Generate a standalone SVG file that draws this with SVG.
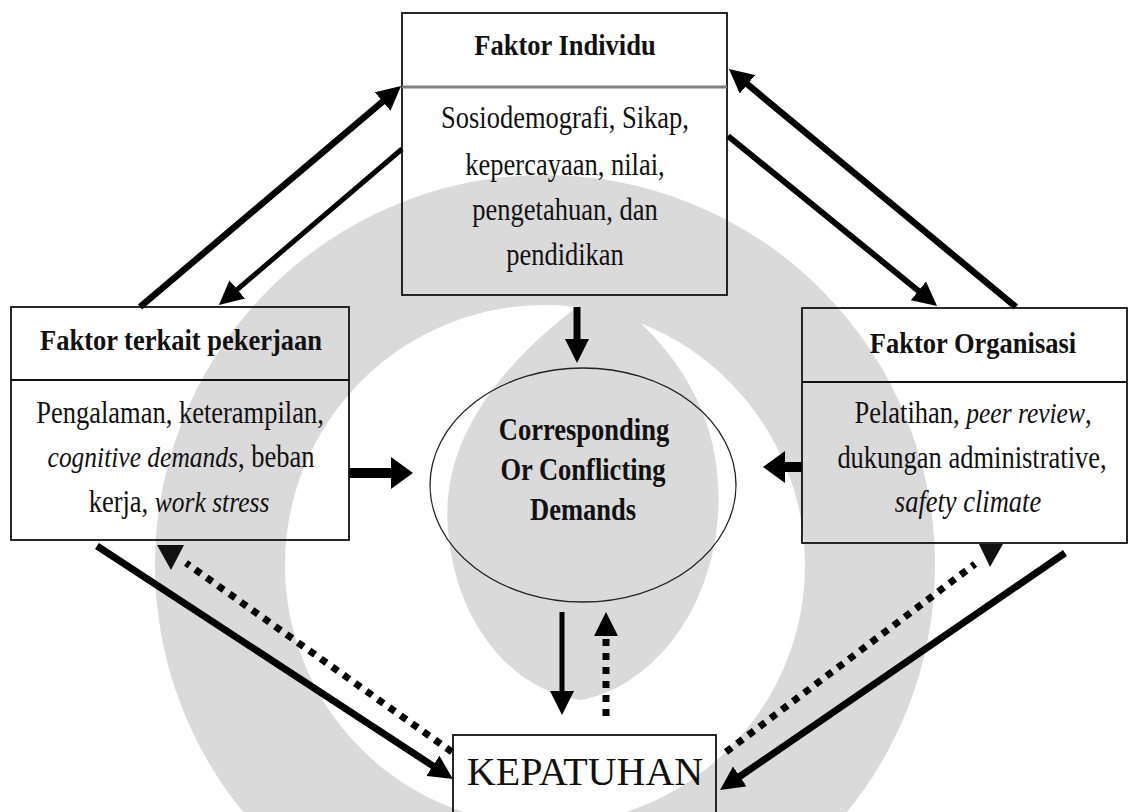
<svg xmlns="http://www.w3.org/2000/svg" width="1130" height="812" viewBox="0 0 1130 812">
<style>
  .box{fill:none;stroke:#111;stroke-width:1.8}
  .dv{stroke:#111;stroke-width:1.8}
  .t{font-family:"Liberation Serif","Times New Roman",serif;font-size:26.5px;fill:#111;text-anchor:middle}
  .b{font-weight:bold}
  .i{font-style:italic;font-size:25.5px}
  .c{fill:none;stroke:#000;stroke-linecap:butt}
  .dot{stroke-dasharray:7 7}
  .hd{fill:#111}
  .wm{fill:none;stroke:#dadada}
  .wmf{fill:#dadada}
</style>
<defs>
  <marker id="ah" markerUnits="userSpaceOnUse" viewBox="0 0 24 24" markerWidth="24" markerHeight="24" refX="9" refY="12" orient="auto">
    <path d="M0,0 L24,12 L0,24 z" fill="#000"/>
  </marker>
  <marker id="ahw" markerUnits="userSpaceOnUse" viewBox="0 0 22 32" markerWidth="22" markerHeight="32" refX="7" refY="16" orient="auto">
    <path d="M0,0 L22,16 L0,32 z" fill="#000"/>
  </marker>
</defs>
<rect width="1130" height="812" fill="#fff"/>

<g id="watermark">
  <circle class="wm" cx="545" cy="565" r="325" stroke-width="130"/>
  <path class="wmf" d="M600,290 C700,360 730,450 715,540 C700,630 640,690 580,700 C510,690 455,620 448,530 C440,440 500,360 600,290 Z"/>
</g>

<g id="connectors">
  <line class="c" x1="140" y1="307" x2="389.6" y2="95.7" stroke-width="6.5" marker-end="url(#ah)"/>
  <line class="c" x1="402" y1="149" x2="230.4" y2="295.3" stroke-width="5" stroke="#1a1a1a" marker-end="url(#ah)"/>
  <line class="c" x1="728" y1="136" x2="925.4" y2="296.5" stroke-width="6" stroke="#222" marker-end="url(#ah)"/>
  <line class="c" x1="1016" y1="307" x2="740.5" y2="78.6" stroke-width="6.5" marker-end="url(#ah)"/>
  <line class="c" x1="577" y1="307" x2="577" y2="348" stroke-width="7" marker-end="url(#ah)"/>
  <line class="c" x1="349" y1="473" x2="398" y2="473" stroke-width="10" marker-end="url(#ahw)"/>
  <line class="c" x1="802" y1="467" x2="778" y2="467" stroke-width="10" marker-end="url(#ahw)"/>
  <line class="c" x1="562" y1="612" x2="562" y2="700" stroke-width="5" marker-end="url(#ah)"/>
  <line class="c dot" x1="606" y1="716" x2="606" y2="627" stroke-width="7" marker-end="url(#ah)"/>
  <line class="c" x1="97" y1="546" x2="440.4" y2="770.8" stroke-width="7" marker-end="url(#ah)"/>
  <line class="c" x1="1065" y1="553" x2="732.4" y2="781.5" stroke-width="7" marker-end="url(#ah)"/>
  <line class="c dot" x1="452" y1="752" x2="186" y2="563" stroke-width="7"/>
  <polygon class="hd" points="157,545 184,545 171,570"/>
  <line class="c dot" x1="726" y1="752" x2="975" y2="564" stroke-width="7"/>
  <polygon class="hd" points="979,544 1003,544 990,567"/>
</g>

<g id="faktor-individu">
  <rect class="box" x="402" y="13" width="325" height="282"/>
  <line x1="402" y1="87" x2="727" y2="87" stroke="#808080" stroke-width="3"/>
  <text class="t b" transform="translate(565 55) scale(1 1.15)">Faktor Individu</text>
  <text class="t" transform="translate(565 128) scale(1 1.18)">Sosiodemografi, Sikap,</text>
  <text class="t" transform="translate(565 175) scale(1 1.18)">kepercayaan, nilai,</text>
  <text class="t" transform="translate(565 220) scale(1 1.18)">pengetahuan, dan</text>
  <text class="t" transform="translate(565 265) scale(1 1.18)">pendidikan</text>
</g>

<g id="faktor-pekerjaan">
  <rect class="box" x="11" y="307" width="338" height="233"/>
  <line class="dv" x1="11" y1="380" x2="349" y2="380"/>
  <text class="t b" transform="translate(181 350) scale(1 1.15)">Faktor terkait pekerjaan</text>
  <text class="t" transform="translate(180 423) scale(1 1.18)">Pengalaman, keterampilan,</text>
  <text class="t" transform="translate(181 467) scale(1 1.18)"><tspan class="i">cognitive demands</tspan>, beban</text>
  <text class="t" transform="translate(179 512) scale(1 1.18)">kerja, <tspan class="i">work stress</tspan></text>
</g>

<g id="faktor-organisasi">
  <rect class="box" x="802" y="308" width="325" height="235"/>
  <line class="dv" x1="802" y1="382" x2="1127" y2="382"/>
  <text class="t b" transform="translate(973 353) scale(1 1.15)">Faktor Organisasi</text>
  <text class="t" transform="translate(973 423) scale(1 1.18)">Pelatihan, <tspan class="i">peer review</tspan>,</text>
  <text class="t" transform="translate(972 468) scale(1 1.18)">dukungan administrative,</text>
  <text class="t" transform="translate(968 512) scale(1 1.18)"><tspan class="i" style="font-size:26.5px">safety climate</tspan></text>
</g>

<g id="demands">
  <ellipse cx="583" cy="485" rx="153" ry="117" fill="none" stroke="#222" stroke-width="1.3"/>
  <text class="t b" transform="translate(584 440) scale(1 1.2)">Corresponding</text>
  <text class="t b" transform="translate(583 480) scale(1 1.2)">Or Conflicting</text>
  <text class="t b" transform="translate(583 520) scale(1 1.2)">Demands</text>
</g>

<g id="kepatuhan">
  <rect class="box" x="453" y="735" width="263" height="90"/>
  <text class="t" x="585" y="785" style="font-size:40px">KEPATUHAN</text>
</g>
</svg>
